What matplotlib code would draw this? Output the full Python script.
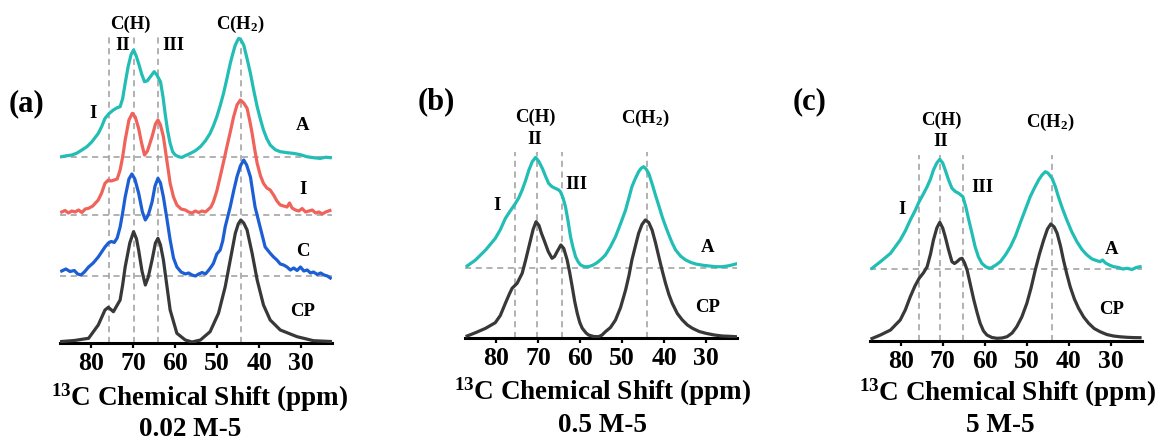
import matplotlib
matplotlib.use("Agg")
import matplotlib.pyplot as plt

plt.rcParams['font.family'] = ['Liberation Serif', 'DejaVu Serif']
plt.rcParams['font.weight'] = 'bold'
plt.rcParams['mathtext.fontset'] = 'custom'
plt.rcParams['mathtext.rm'] = 'Liberation Serif:bold'
plt.rcParams['mathtext.bf'] = 'Liberation Serif:bold'
plt.rcParams['mathtext.it'] = 'Liberation Serif:bold'

# ---------------- data (ppm, intensity above each trace's baseline) ----------------
xticks = [80, 70, 60, 50, 40, 30]
xlabel_text = r'$^{13}$C Chemical Shift (ppm)'
panel_letters = ['(a)', '(b)', '(c)']
panel_titles = ['0.02 M-5', '0.5 M-5', '5 M-5']

# panel (a)
a_cp_ppm = [87.0, 84.0, 80.6, 78.3, 76.7, 75.9, 74.7, 73.1, 72.5, 71.9, 70.8, 69.9, 69.2, 68.7, 67.9, 67.1, 66.4,
            65.5, 64.7, 64.1, 63.5, 62.8, 62.0, 61.2, 59.6, 57.6, 56.0, 54.0, 51.7, 49.7, 48.1, 46.9, 45.7, 45.0,
            44.4, 43.7, 42.9, 41.7, 40.5, 39.0, 37.4, 35.0, 31.0, 27.1, 23.0]
a_cp_int = [1.5, 2.5, 4.7, 18, 33, 35.7, 31.3, 43, 58, 76, 100, 111.3, 104, 93, 72, 58, 66,
            83, 100, 104.7, 98, 83, 58, 33, 9.7, 3, 1, 3, 11.3, 29.7, 56.3, 83, 109.7, 119,
            123, 120, 113, 89.7, 63, 38, 23, 13, 6.3, 2.3, 1.5]

a_c_ppm = [87.0, 86.0, 85.0, 84.0, 83.2, 82.4, 81.6, 80.6, 79.5, 78.3, 77.5, 76.7, 75.9, 75.2, 74.5, 73.8, 73.1,
           72.5, 71.9, 71.0, 70.3, 69.6, 68.7, 67.8, 67.1, 66.4, 65.5, 64.8, 64.1, 63.5, 62.8, 62.0, 61.2, 60.4,
           59.6, 58.6, 57.6, 56.8, 56.0, 55.2, 54.4, 53.6, 52.8, 52.0, 51.3, 50.9, 50.1, 49.3, 48.7, 48.1, 46.9,
           46.1, 45.3, 44.5, 43.7, 43.0, 42.1, 41.0, 39.8, 38.6, 37.4, 36.6, 35.8, 35.0, 34.2, 33.4, 32.6, 31.8,
           31.0, 30.2, 29.4, 28.6, 27.8, 27.1, 26.2, 25.4, 24.6, 23.8, 23.1]
a_c_int = [5, 7, 4.5, 5.5, 2, 1, 4, 9, 13, 19, 24, 29, 33, 34.5, 33.5, 38, 49,
           63, 79, 97, 102, 97, 83, 64, 56, 61, 74, 90, 97.7, 93, 79, 58, 36, 18,
           9, 4, 2, 3, 1, 0, 2, 3.5, 2, 6, 10, 12.7, 22, 26, 35, 49.3, 69.3,
           85, 99.3, 110, 116, 111, 99, 69, 49, 29, 22.7, 19, 16, 12, 11, 9, 6, 8,
           5.5, 9, 5, 6, 3, 4, 1.5, 3, 1, 0, -2]

a_i_ppm = [87.0, 86.2, 85.4, 84.6, 83.8, 83.0, 82.2, 81.4, 80.6, 79.6, 78.3, 77.5, 76.7, 75.9, 75.2, 74.5, 73.8,
           73.1, 72.5, 71.9, 71.0, 70.2, 69.5, 68.7, 68.0, 67.3, 66.6, 65.5, 64.7, 64.1, 63.5, 62.8, 62.0, 61.2,
           60.4, 59.6, 58.6, 57.6, 56.8, 56.0, 55.2, 54.4, 53.6, 52.8, 52.0, 51.5, 50.9, 50.1, 49.3, 48.5, 47.7,
           46.9, 46.1, 45.3, 44.5, 43.7, 42.9, 42.3, 41.7, 41.1, 40.5, 39.7, 39.0, 38.2, 37.4, 36.6, 35.8, 35.0,
           34.2, 33.4, 32.8, 32.2, 31.4, 30.6, 29.8, 29.0, 28.2, 27.4, 26.6, 25.8, 25.0, 24.2, 23.2]
a_i_int = [3, 4.5, 2, 4, 3, 5, 2.5, 6, 6.7, 9, 15, 22, 31.7, 35, 34, 35, 36,
           45, 58, 75, 95, 101.7, 98, 86.7, 72, 60, 64, 78.3, 91, 95, 90, 78.3, 55, 31.7,
           18, 10, 6, 5, 3, 2, 4, 2.5, 4, 3, 6, 8, 13.3, 24, 38.3, 53, 68.3,
           83, 98.3, 110, 115, 112, 106.7, 95, 81.7, 66, 51.7, 39, 31.7, 27, 25, 20, 14, 10,
           9, 8, 12, 7, 5, 4, 6.5, 3, 4, 5, 2, 3, 1, 3, 4.5]

a_a_ppm = [87.0, 85.8, 84.6, 83.4, 82.2, 81.0, 79.8, 78.3, 77.5, 76.7, 75.7, 74.7, 73.8, 73.1, 72.5, 71.9, 71.2,
           70.5, 69.9, 69.3, 68.7, 68.0, 67.3, 66.6, 65.9, 65.0, 64.4, 63.5, 62.9, 62.4, 61.8, 61.2, 60.6, 60.0,
           59.2, 58.4, 57.6, 56.4, 55.2, 54.0, 52.8, 51.7, 50.9, 50.1, 49.3, 48.5, 47.7, 46.9, 46.3, 45.7, 45.2,
           44.9, 44.4, 43.7, 42.9, 42.1, 41.3, 40.5, 39.7, 39.0, 38.2, 37.4, 36.2, 35.0, 33.4, 31.8, 30.2, 28.7,
           27.1, 25.5, 24.2, 23.1]
a_a_int = [0, 1, 1.7, 3.5, 6.7, 10, 15, 23.3, 30, 38.3, 43.3, 46.7, 49, 50, 58, 73.3, 90,
           102, 106.7, 101, 93.3, 83, 75, 76, 80, 85, 82, 75, 60, 43.3, 26, 13.3, 5, 1.7,
           0, -0.7, 1, 3.3, 6, 10, 16, 23.3, 31, 40, 51, 63.3, 78, 93.3, 103, 111.7, 116,
           118.3, 117, 111.7, 98, 83.3, 66, 50, 37, 26.7, 18, 11.7, 7, 5, 4, 3.3, 2, 0,
           -1, -1.7, -0.5, -1]

# panel (b)
b_cp_ppm = [86.9, 84.9, 82.5, 80.2, 79.0, 77.8, 76.9, 76.2, 75.0, 73.8, 73.0, 72.2, 71.2, 70.5, 69.8, 69.2, 68.6,
            67.6, 66.7, 66.1, 65.5, 64.6, 63.9, 63.1, 62.5, 61.9, 61.3, 60.7, 60.1, 59.5, 58.6, 58.0, 56.8, 55.6,
            54.8, 54.0, 52.8, 51.6, 50.4, 49.2, 48.4, 47.7, 46.9, 46.1, 45.3, 44.5, 43.7, 42.9, 42.1, 41.3, 40.5,
            39.7, 38.9, 38.1, 36.9, 35.7, 34.5, 33.3, 31.7, 30.1, 28.1, 26.2, 24.6, 23.0]
b_cp_int = [1.5, 4.8, 9.2, 14.8, 22, 34.2, 43, 49.2, 54.2, 64.2, 77, 90.8, 108, 115.8, 112, 104, 97.5,
            86, 79.2, 81, 85.8, 92.5, 89, 77.5, 65, 50.8, 36, 24.2, 15, 9.2, 4.5, 2.5, 1, 0.8,
            2.5, 5.8, 10, 17.5, 30, 47.5, 62, 77.5, 91, 104.2, 113, 117.5, 115, 107.5, 95, 80.8, 67,
            54.2, 43, 34.2, 24, 17.5, 12.5, 9.2, 6, 4.2, 2.5, 1.5, 1.2, 0.8]

b_a_ppm = [86.9, 84.9, 82.5, 80.2, 79.0, 77.8, 76.6, 75.4, 74.6, 73.8, 73.0, 72.2, 71.4, 70.6, 69.8, 69.0, 68.2,
           67.5, 66.7, 65.9, 65.2, 64.7, 64.1, 63.5, 62.9, 62.3, 61.7, 61.1, 60.5, 59.9, 59.0, 58.0, 57.0, 56.0,
           55.0, 54.0, 52.8, 51.6, 50.4, 49.2, 48.4, 47.7, 46.9, 46.1, 45.5, 44.9, 44.3, 43.7, 42.9, 42.1, 41.3,
           40.5, 39.7, 38.9, 38.1, 37.3, 36.1, 34.9, 33.7, 32.5, 30.9, 29.3, 27.8, 26.2, 24.6, 23.0]
b_a_int = [1.7, 7.7, 17.7, 29.3, 38, 49.3, 57, 64.3, 70, 77.7, 87, 97.7, 106, 110.3, 106, 99.3, 91,
           84.3, 81, 79.3, 78, 76, 70, 61, 47, 31, 20, 11, 6, 2.7, 1, 1, 2.5, 5,
           8.5, 12.7, 21, 31, 44, 57.7, 70, 81, 89, 96, 99.5, 101, 98.5, 94.3, 84, 72.7, 62,
           51, 41.5, 32.7, 24.5, 17.7, 11.5, 7.7, 5.3, 3.7, 2.5, 1.7, 1, 1, 2, 3.7]

# panel (c)
c_cp_ppm = [86.8, 84.8, 82.4, 80.1, 78.9, 77.7, 76.6, 75.6, 74.6, 73.7, 72.9, 72.2, 71.4, 70.7, 70.0, 69.4, 68.6,
            67.8, 67.2, 66.6, 65.9, 65.4, 64.8, 64.2, 63.4, 62.6, 61.8, 61.1, 60.3, 59.5, 58.3, 57.1, 55.9, 54.7,
            53.5, 52.4, 51.2, 50.0, 49.0, 48.0, 47.0, 46.0, 45.1, 44.3, 43.5, 42.8, 42.0, 41.3, 40.5, 39.7, 38.7,
            37.7, 36.5, 35.3, 34.0, 32.6, 31.0, 29.4, 27.8, 26.2, 24.6, 23.1]
c_cp_int = [2.5, 6, 11, 21, 31, 44.3, 55, 62.7, 68, 74.3, 87, 101, 113, 118.7, 113, 104.3, 91,
            79.3, 77.5, 79.3, 82, 82.7, 78, 71, 56, 41, 28, 17.7, 10, 6, 3.5, 2.7, 3, 4.3,
            8, 14.3, 24, 37.7, 53, 71, 87, 101, 112, 117, 114, 107.7, 95, 81, 67, 54.3, 42,
            32.7, 24, 17.7, 12.5, 9.3, 6.5, 5, 4.2, 3.7, 3.4, 3.3]

c_a_ppm = [86.8, 84.8, 82.4, 80.1, 78.9, 77.7, 76.6, 75.6, 74.6, 73.7, 72.9, 72.2, 71.4, 70.7, 70.0, 69.4, 68.6,
           67.8, 67.0, 66.2, 65.2, 64.5, 63.8, 63.0, 62.3, 61.5, 60.7, 59.7, 58.7, 57.5, 56.3, 55.1, 53.9, 52.7,
           51.6, 50.4, 49.2, 48.2, 47.2, 46.4, 45.6, 45.0, 44.0, 43.2, 42.5, 41.5, 40.5, 39.3, 38.1, 36.9, 35.7,
           34.5, 33.5, 32.6, 32.0, 31.3, 30.4, 29.4, 28.2, 27.2, 26.2, 25.0, 24.0, 23.1]
c_a_int = [0.7, 7.3, 15.7, 29, 38, 49, 58, 67.3, 75, 82.3, 90, 99, 106, 109.7, 106, 99, 89,
           80.7, 77.5, 75.7, 72.3, 62, 49, 35, 22.3, 12, 5.7, 2, 0.7, 3.5, 7.3, 14, 22.3, 33,
           45.7, 59, 72.3, 81, 89, 94, 97.3, 96, 90.7, 82, 72.3, 60, 49, 37, 27.3, 19.5, 14,
           10, 8.5, 7.3, 9, 6, 4, 2.3, 1.5, 0, 0.7, -0.5, 1.5, 2.3]

# reference lines (ppm) per panel
a_refs = [75.7, 69.9, 64.1, 44.4]
b_refs = [75.4, 70.2, 64.3, 44.0]
c_refs = [75.6, 70.6, 65.2, 44.0]

# ---------------- style / layout ----------------
W, H = 1158, 442
COL = {'A': '#22bdb5', 'I': '#ef635b', 'C': '#1c5fd4', 'CP': '#383838'}
DASH = dict(color='#9c9c9c', lw=1.1, ls=(0, (4, 3)))
XLIM = (87.4, 22.7)
LW = 2.3

fig = plt.figure(figsize=(W / 100, H / 100), dpi=100)


def make_ax(left_px, right_px, axis_y_px):
    ax = fig.add_axes([left_px / W, (H - axis_y_px) / H, (right_px - left_px) / W, axis_y_px / H])
    ax.set_xlim(*XLIM)
    ax.set_ylim(0, axis_y_px)
    for s in ['left', 'right', 'top']:
        ax.spines[s].set_visible(False)
    ax.spines['bottom'].set_linewidth(2.2)
    ax.set_yticks([])
    ax.set_xticks(xticks)
    ax.tick_params(axis='x', direction='out', length=3.5, width=1.6, labelsize=18.5, pad=3)
    for lab in ax.get_xticklabels():
        lab.set_fontweight('bold')
    ax.patch.set_alpha(0)
    return ax


def ftext(px, py, s, size, **kw):
    fig.text(px / W, 1 - py / H, s, fontsize=size, fontweight='bold', ha='center', va='center', **kw)


# ---- panel (a)
axa = make_ax(60, 332, 343)
a_off = {'A': 186.3, 'I': 128, 'C': 67, 'CP': 0}
for yb in [a_off['A'], a_off['I'], a_off['C']]:
    axa.axhline(yb, **DASH, zorder=1)
axa.vlines(a_refs, 0, 310, **DASH, zorder=1)
axa.plot(a_cp_ppm, [v + a_off['CP'] for v in a_cp_int], color=COL['CP'], lw=LW, zorder=3)
axa.plot(a_c_ppm, [v + a_off['C'] for v in a_c_int], color=COL['C'], lw=LW, zorder=3)
axa.plot(a_i_ppm, [v + a_off['I'] for v in a_i_int], color=COL['I'], lw=LW, zorder=3)
axa.plot(a_a_ppm, [v + a_off['A'] for v in a_a_int], color=COL['A'], lw=LW, zorder=3)

# ---- panel (b)
axb = make_ax(465, 737, 337.5)
b_off = {'A': 69.8, 'CP': 0}
axb.axhline(b_off['A'], **DASH, zorder=1)
axb.vlines(b_refs, 0, 186, **DASH, zorder=1)
axb.plot(b_cp_ppm, [v + b_off['CP'] for v in b_cp_int], color=COL['CP'], lw=LW, zorder=3)
axb.plot(b_a_ppm, [v + b_off['A'] for v in b_a_int], color=COL['A'], lw=LW, zorder=3)

# ---- panel (c)
axc = make_ax(869.5, 1141.7, 341)
c_off = {'A': 72, 'CP': 0}
axc.axhline(c_off['A'], **DASH, zorder=1)
axc.vlines(c_refs, 0, 186, **DASH, zorder=1)
axc.plot(c_cp_ppm, [v + c_off['CP'] for v in c_cp_int], color=COL['CP'], lw=LW, zorder=3)
axc.plot(c_a_ppm, [v + c_off['A'] for v in c_a_int], color=COL['A'], lw=LW, zorder=3)

# ---------------- texts ----------------
LAB = 13.5
# panel (a)
ftext(26, 104, panel_letters[0], 22)
ftext(130, 24, 'C(H)', LAB)
ftext(123, 45, 'II', LAB)
ftext(173, 45, 'III', LAB)
ftext(93, 113, 'I', LAB)
ftext(240, 24, r'C(H$_2$)', LAB)
ftext(303, 126, 'A', LAB)
ftext(303, 190, 'I', LAB)
ftext(303, 252, 'C', LAB)
ftext(303, 312, 'CP', LAB)
ftext(200, 398, xlabel_text, 19.5)
ftext(190, 430, panel_titles[0], 19.5)

# panel (b)
ftext(436, 102, panel_letters[1], 22)
ftext(535, 117, 'C(H)', LAB)
ftext(535, 139, 'II', LAB)
ftext(576, 184, 'III', LAB)
ftext(497, 205, 'I', LAB)
ftext(645, 118, r'C(H$_2$)', LAB)
ftext(708, 247, 'A', LAB)
ftext(708, 307, 'CP', LAB)
ftext(603, 392, xlabel_text, 19.5)
ftext(602, 425, panel_titles[1], 19.5)

# panel (c)
ftext(810, 102, panel_letters[2], 22)
ftext(941, 120, 'C(H)', LAB)
ftext(941, 142, 'II', LAB)
ftext(982, 187, 'III', LAB)
ftext(902, 210, 'I', LAB)
ftext(1050, 122, r'C(H$_2$)', LAB)
ftext(1112, 249, 'A', LAB)
ftext(1112, 309, 'CP', LAB)
ftext(1008, 393, xlabel_text, 19.5)
ftext(1000, 425, panel_titles[2], 19.5)

fig.savefig('out.png', dpi=100, facecolor='white')
